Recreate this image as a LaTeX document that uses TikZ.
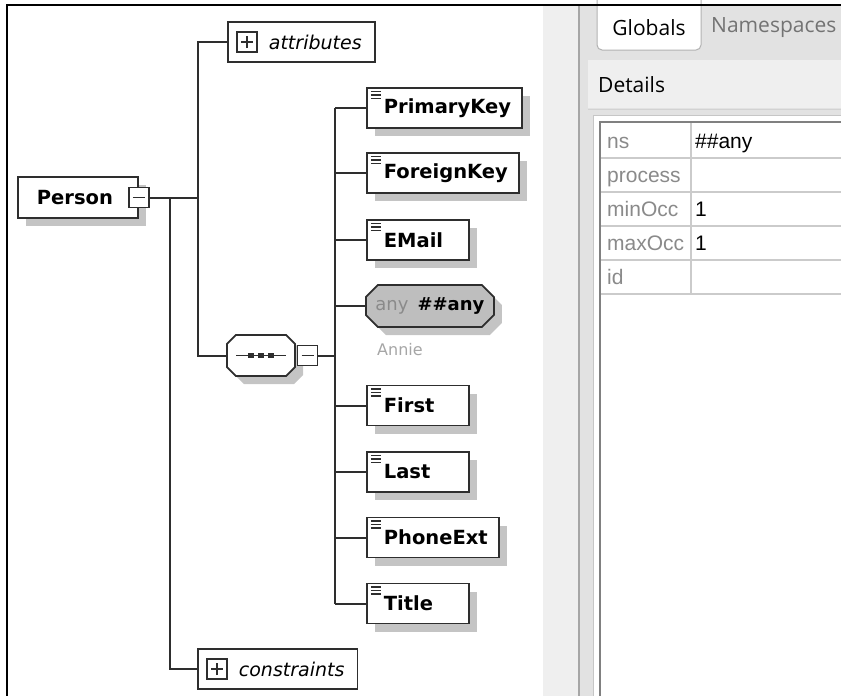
\documentclass[tikz,border=0pt]{standalone}
\usepackage{fontspec}
\setmainfont{DejaVu Sans}
\newfontfamily\uifont{Open Sans}
\newfontfamily\gridfont{Liberation Sans}
\usetikzlibrary{positioning,shapes.misc,shadows}

\definecolor{linec}{HTML}{2E2E2E}
\definecolor{shadowc}{HTML}{C4C4C4}
\definecolor{anyfill}{HTML}{BEBEBE}
\definecolor{dimtext}{HTML}{8A8A8A}
\definecolor{annietext}{HTML}{A6A6A6}
\definecolor{paneback}{HTML}{EFEFEF}
\definecolor{tabback}{HTML}{E2E2E2}
\definecolor{gridc}{HTML}{CBCBCB}

\newlength\elwd
\newcommand\elname[1]{\settowidth{\elwd}{#1}%
  \ifdim\elwd<74pt\setlength{\elwd}{74pt}\fi\makebox[\elwd][l]{#1}}

\tikzset{
  conn/.style={draw=linec, line width=2pt},
  boxshadow/.style={general shadow={fill=shadowc, shadow xshift=8pt, shadow yshift=-8pt}},
  box/.style={draw=linec, line width=1.8pt, fill=white, anchor=west, inner sep=0,
    minimum height=40, font=\fontsize{19.5}{23}\selectfont\bfseries},
  elem/.style={box, boxshadow, minimum width=102,
    execute at begin node={\hspace*{17pt}}, execute at end node={\hspace*{11pt}},
    path picture={\foreach \d in {3.5,7,10.5}
      \draw[linec, line width=1.3pt] ([shift={(4pt,-\d pt)}]path picture bounding box.north west) -- ++(10pt,0pt);}},
  root/.style={box, boxshadow, minimum height=41,
    execute at begin node={\hspace*{19pt}}, execute at end node={\hspace*{25pt}}},
  group/.style={box, font=\fontsize{19}{23}\selectfont\itshape,
    execute at begin node={\hspace*{41pt}}, execute at end node={\hspace*{13pt}}},
  toggle/.style={draw=linec, line width=1.5pt, fill=white, minimum size=20, inner sep=0},
  minusbox/.style={toggle, path picture={
    \draw[linec, line width=1.5pt] ([xshift=-6pt]path picture bounding box.center) -- ([xshift=6pt]path picture bounding box.center);}},
  plusbox/.style={toggle, path picture={
    \draw[linec, line width=1.5pt] ([xshift=-6pt]path picture bounding box.center) -- ([xshift=6pt]path picture bounding box.center);
    \draw[linec, line width=1.5pt] ([yshift=-6pt]path picture bounding box.center) -- ([yshift=6pt]path picture bounding box.center);}},
  octa/.style={chamfered rectangle, chamfered rectangle xsep=10pt,
    draw=linec, line width=1.8pt, fill=white, boxshadow, inner sep=0,
    font=\fontsize{18}{22}\selectfont\bfseries},
  cell/.style={anchor=base west, inner sep=0, font=\gridfont\fontsize{21}{24}\selectfont},
  uitext/.style={inner sep=0, font=\uifont\fontsize{21}{25}\selectfont},
}

\begin{document}
\begin{tikzpicture}[x=1pt, y=-1pt]
\useasboundingbox (0,0) rectangle (841,696);
\clip (0,0) rectangle (841,696);

% details pane
\fill[paneback] (543,5) rectangle (579,696);
\fill[tabback] (579,5) rectangle (841,696);
\fill[paneback] (588,60) rectangle (841,108);
\draw[gray!35, line width=1pt] (588,109) -- (841,109);
\draw[gray!70, line width=1.5pt] (579,5) -- (579,696);
\draw[gray!45, line width=1pt, fill=white] (593,115) rectangle (850,700);
\draw[black!50, line width=2.5pt, fill=white] (600,122) rectangle (850,700);
\draw[gray!60, line width=1pt, fill=white, rounded corners=5pt]
  (597,-6) -- (597,50) -- (701,50) -- (701,-6);
\node[uitext] (globals) at (649,28) {Globals};
\node[uitext, anchor=west, text=black!55] (namespaces) at (711,28) {Namespaces};
\node[uitext, anchor=west] (details) at (598,85) {Details};

% property grid
\foreach \y in {158,192,226,260,294}
  \draw[gridc, line width=1.5pt] (601,\y) -- (841,\y);
\draw[gridc, line width=1.5pt] (691,123) -- (691,294);
\foreach \k/\v [count=\i] in {ns/\#\#any, process/, minOcc/1, maxOcc/1, id/} {
  \node[cell, text=dimtext] (key\i) at (607,{114.5+34*\i}) {\k};
  \node[cell] (val\i) at (695,{114.5+34*\i}) {\v};
}

% schema tree
\node[root] (person) at (17,197.5) {Person};
\node[minusbox] (pminus) at (person.east) {};

\node[group] (attr) at (227,42) {attributes};
\node[plusbox] (aplus) at ([xshift=20pt]attr.west) {};
\node[group] (constr) at (197,669) {constraints};
\node[plusbox] (cplus) at ([xshift=20pt]constr.west) {};

\node[octa, minimum width=68, minimum height=41] (seq) at (261,355.5) {\phantom{a}};
\node[minusbox, right=1pt of seq] (sminus) {};
\draw[linec, line width=1.5pt] ([xshift=-25pt]seq.center) -- ([xshift=25pt]seq.center);
\foreach \dx in {-10,0,10}
  \fill[linec] ([shift={(\dx pt-2.75pt,2.5pt)}]seq.center) rectangle ++(5.5,5);

\node[elem] (pk) at (366,108) {\elname{PrimaryKey}};
\node[elem] (fk) at (366,173) {\elname{ForeignKey}};
\node[elem] (email) at (366,240) {\elname{EMail}};
\node[octa, fill=anyfill, anchor=west, minimum width=128, minimum height=42] (anyel) at (365,306)
  {{\color{dimtext}\mdseries any}\hspace{9pt}\#\#any};
\node[anchor=west, inner sep=0, text=annietext, font=\fontsize{16}{19}\selectfont] (annie) at (377,350) {Annie};
\node[elem] (first) at (366,405.5) {\elname{First}};
\node[elem] (last) at (366,472) {\elname{Last}};
\node[elem] (phone) at (366,537.5) {\elname{PhoneExt}};
\node[elem] (title) at (366,603.5) {\elname{Title}};

% connectors
\coordinate (trunk) at ([xshift=-29pt]attr.west);
\coordinate (seqbus) at ([xshift=-31pt]pk.west);
\draw[conn] (pminus.east) -- (trunk |- pminus.east);
\draw[conn] (attr.west) -- (trunk) |- (seq.west);
\draw[conn] (constr.west) -| ([xshift=20pt]pminus.east);
\draw[conn] (sminus.east) -- (seqbus |- sminus.east);
\draw[conn] (seqbus) -- (seqbus |- title.west);
\foreach \n in {pk,fk,email,anyel,first,last,phone,title}
  \draw[conn] (\n.west) -- (seqbus |- \n.west);

% frame
\draw[line width=2.5pt] (7,696) -- (7,5) -- (841,5);
\end{tikzpicture}
\end{document}
